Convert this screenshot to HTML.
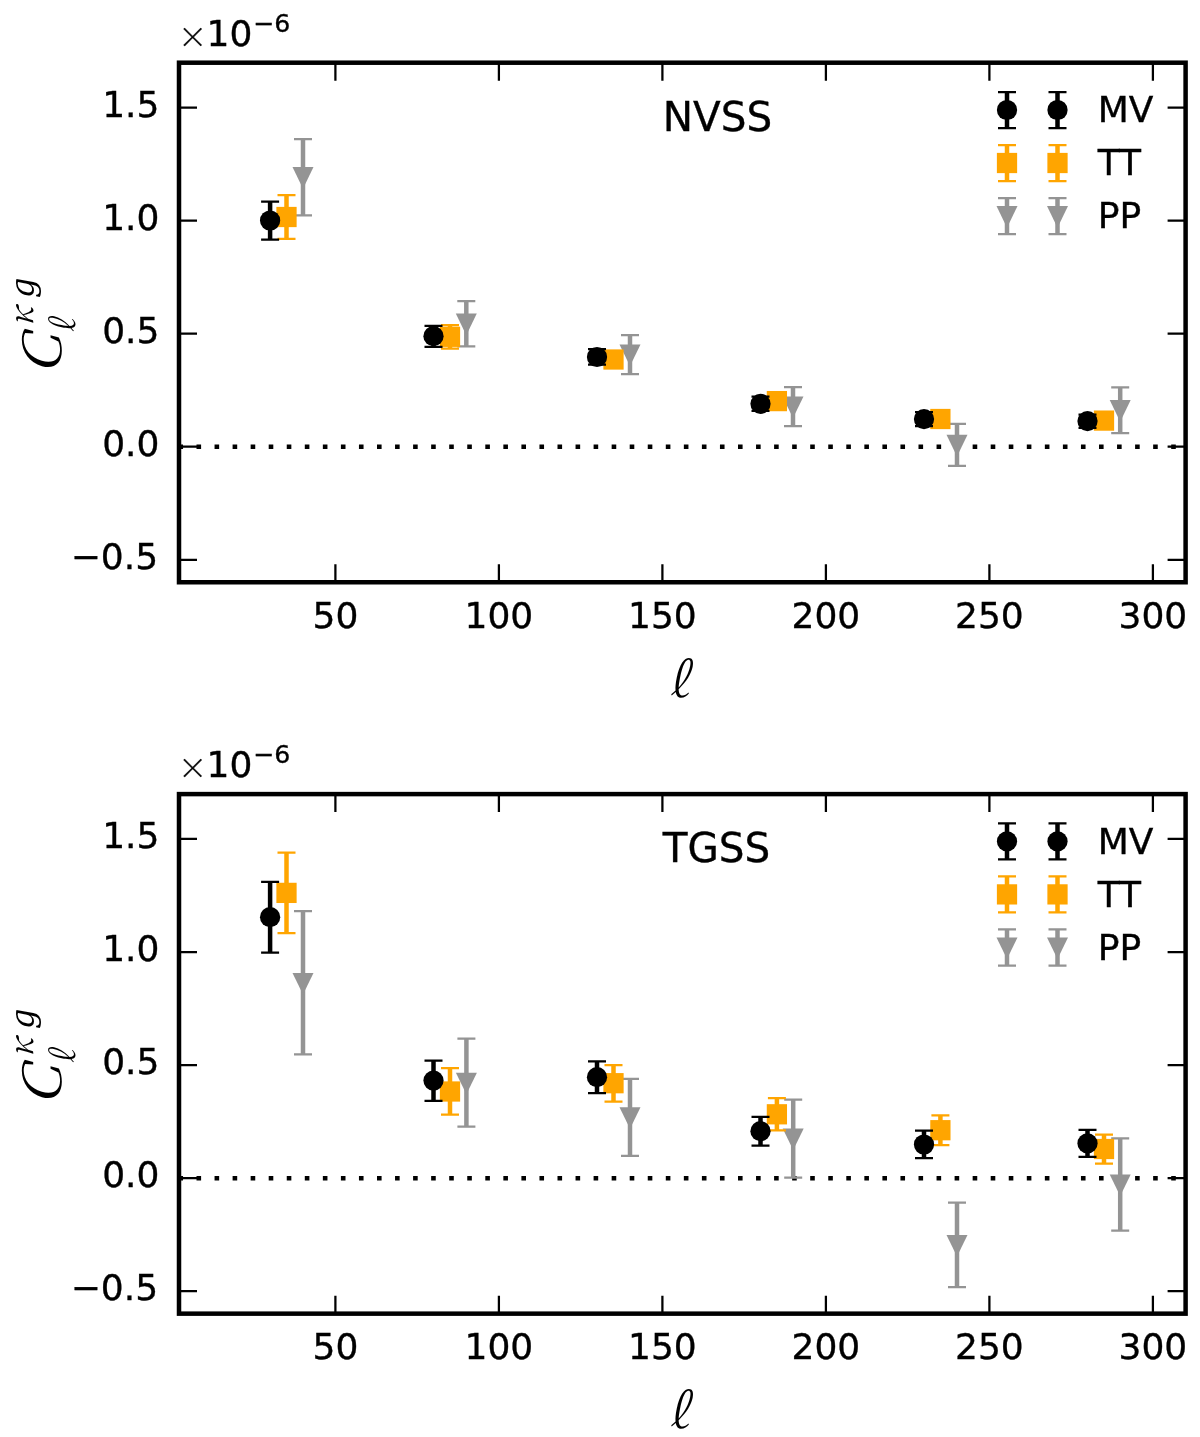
<!DOCTYPE html>
<html><head><meta charset="utf-8"><title>Cross-correlation band powers</title>
<style>
html,body{margin:0;padding:0;background:#fff}
svg{display:block}
text{font-family:"DejaVu Sans","Liberation Sans",sans-serif;fill:#000}
.tk,.ttl{stroke:#000;stroke-width:0.35px}
.tk{font-size:36px}
.sup{font-size:25.2px}
.ttl{font-size:40.5px}
.cm{font-family:"Noto Serif CJK SC","Liberation Serif",serif}
.cmi{font-family:"Noto Serif CJK SC","Liberation Serif",serif;font-style:italic}
.dvi{font-family:"DejaVu Serif","Liberation Serif",serif;font-style:italic}
</style></head>
<body>
<svg width="1200" height="1437" viewBox="0 0 1200 1437">
<rect width="1200" height="1437" fill="#fff"/>
<g id="panel-nvss">
<path d="M178.45 446.75H1185.6" stroke="#000" stroke-width="4.5" stroke-dasharray="4.6 13.45" fill="none"/>
<g>
<path d="M303 139V215.3" stroke="#949494" stroke-width="4.5" fill="none"/><path d="M294 139H312M294 215.3H312" stroke="#949494" stroke-width="2.25" fill="none"/><path d="M292.5 167.07H313.5L303 188.7Z" fill="#949494"/>
<path d="M466.3 301V346.3" stroke="#949494" stroke-width="4.5" fill="none"/><path d="M457.3 301H475.3M457.3 346.3H475.3" stroke="#949494" stroke-width="2.25" fill="none"/><path d="M455.8 313.57H476.8L466.3 335.2Z" fill="#949494"/>
<path d="M630 335V374" stroke="#949494" stroke-width="4.5" fill="none"/><path d="M621 335H639M621 374H639" stroke="#949494" stroke-width="2.25" fill="none"/><path d="M619.5 344.38H640.5L630 366Z" fill="#949494"/>
<path d="M793 387V426" stroke="#949494" stroke-width="4.5" fill="none"/><path d="M784 387H802M784 426H802" stroke="#949494" stroke-width="2.25" fill="none"/><path d="M782.5 396.38H803.5L793 418Z" fill="#949494"/>
<path d="M957 423.8V465.8" stroke="#949494" stroke-width="4.5" fill="none"/><path d="M948 423.8H966M948 465.8H966" stroke="#949494" stroke-width="2.25" fill="none"/><path d="M946.5 434.77H967.5L957 456.4Z" fill="#949494"/>
<path d="M1120.2 387.3V433" stroke="#949494" stroke-width="4.5" fill="none"/><path d="M1111.2 387.3H1129.2M1111.2 433H1129.2" stroke="#949494" stroke-width="2.25" fill="none"/><path d="M1109.7 400.07H1130.7L1120.2 421.7Z" fill="#949494"/>
</g>
<g>
<path d="M286.5 195.2V238.8" stroke="#ffa500" stroke-width="4.5" fill="none"/><path d="M277.5 195.2H295.5M277.5 238.8H295.5" stroke="#ffa500" stroke-width="2.25" fill="none"/><rect x="276.38" y="206.88" width="20.25" height="20.25" fill="#ffa500"/>
<path d="M450 325V348.7" stroke="#ffa500" stroke-width="4.5" fill="none"/><path d="M441 325H459M441 348.7H459" stroke="#ffa500" stroke-width="2.25" fill="none"/><rect x="439.88" y="326.68" width="20.25" height="20.25" fill="#ffa500"/>
<path d="M613.5 352.5V366.5" stroke="#ffa500" stroke-width="4.5" fill="none"/><path d="M604.5 352.5H622.5M604.5 366.5H622.5" stroke="#ffa500" stroke-width="2.25" fill="none"/><rect x="603.38" y="349.38" width="20.25" height="20.25" fill="#ffa500"/>
<path d="M776.9 394V408" stroke="#ffa500" stroke-width="4.5" fill="none"/><path d="M767.9 394H785.9M767.9 408H785.9" stroke="#ffa500" stroke-width="2.25" fill="none"/><rect x="766.77" y="390.98" width="20.25" height="20.25" fill="#ffa500"/>
<path d="M940.4 412.5V425.5" stroke="#ffa500" stroke-width="4.5" fill="none"/><path d="M931.4 412.5H949.4M931.4 425.5H949.4" stroke="#ffa500" stroke-width="2.25" fill="none"/><rect x="930.27" y="408.88" width="20.25" height="20.25" fill="#ffa500"/>
<path d="M1104 414V427" stroke="#ffa500" stroke-width="4.5" fill="none"/><path d="M1095 414H1113M1095 427H1113" stroke="#ffa500" stroke-width="2.25" fill="none"/><rect x="1093.88" y="410.48" width="20.25" height="20.25" fill="#ffa500"/>
</g>
<g>
<path d="M270.1 201.5V239.7" stroke="#000" stroke-width="4.5" fill="none"/><path d="M261.1 201.5H279.1M261.1 239.7H279.1" stroke="#000" stroke-width="2.25" fill="none"/><circle cx="270.1" cy="220.5" r="10.12" fill="#000"/>
<path d="M433.5 325.8V346.8" stroke="#000" stroke-width="4.5" fill="none"/><path d="M424.5 325.8H442.5M424.5 346.8H442.5" stroke="#000" stroke-width="2.25" fill="none"/><circle cx="433.5" cy="336.2" r="10.12" fill="#000"/>
<path d="M597 349V364.7" stroke="#000" stroke-width="4.5" fill="none"/><path d="M588 349H606M588 364.7H606" stroke="#000" stroke-width="2.25" fill="none"/><circle cx="597" cy="357" r="10.12" fill="#000"/>
<path d="M760.5 396.5V410.8" stroke="#000" stroke-width="4.5" fill="none"/><path d="M751.5 396.5H769.5M751.5 410.8H769.5" stroke="#000" stroke-width="2.25" fill="none"/><circle cx="760.5" cy="403.8" r="10.12" fill="#000"/>
<path d="M924 412V426" stroke="#000" stroke-width="4.5" fill="none"/><path d="M915 412H933M915 426H933" stroke="#000" stroke-width="2.25" fill="none"/><circle cx="924" cy="419.1" r="10.12" fill="#000"/>
<path d="M1087.5 414.5V427.8" stroke="#000" stroke-width="4.5" fill="none"/><path d="M1078.5 414.5H1096.5M1078.5 427.8H1096.5" stroke="#000" stroke-width="2.25" fill="none"/><circle cx="1087.5" cy="421.1" r="10.12" fill="#000"/>
</g>
<path d="M335.4 582.25V564.25M335.4 62.7V80.7M498.9 582.25V564.25M498.9 62.7V80.7M662.4 582.25V564.25M662.4 62.7V80.7M825.9 582.25V564.25M825.9 62.7V80.7M989.4 582.25V564.25M989.4 62.7V80.7M1152.9 582.25V564.25M1152.9 62.7V80.7M179 559.75H197M1185.6 559.75H1167.6M179 446.7H197M1185.6 446.7H1167.6M179 333.65H197M1185.6 333.65H1167.6M179 220.6H197M1185.6 220.6H1167.6M179 107.55H197M1185.6 107.55H1167.6" stroke="#000" stroke-width="2.25" fill="none"/>
<rect x="179" y="62.7" width="1006.6" height="519.55" fill="none" stroke="#000" stroke-width="4.5"/>
<g class="tk" text-anchor="middle">
<text transform="translate(335.4 627.85) scale(1 1)">50</text>
<text transform="translate(498.9 627.85) scale(1 1)">100</text>
<text transform="translate(662.4 627.85) scale(1 1)">150</text>
<text transform="translate(825.9 627.85) scale(1 1)">200</text>
<text transform="translate(989.4 627.85) scale(1 1)">250</text>
<text transform="translate(1152.9 627.85) scale(1 1)">300</text>
</g>
<g class="tk" text-anchor="end">
<text transform="translate(158.1 568.95) scale(1 1)">−0.5</text>
<text transform="translate(159.4 455.9) scale(1 1)">0.0</text>
<text transform="translate(159.4 342.85) scale(1 1)">0.5</text>
<text transform="translate(159.4 229.8) scale(1 1)">1.0</text>
<text transform="translate(159.4 116.75) scale(1 1)">1.5</text>
</g>
<text class="cm" font-size="29.3" stroke="#000" stroke-width="0.45" x="178.1" y="48.1">×</text>
<text class="tk" x="206.6" y="45.85">10<tspan class="sup" x="253.1" y="32.4">−6</tspan></text>
<text class="cmi" font-size="47.7" transform="translate(669.2 697.1) scale(0.823 1)">ℓ</text>
<g transform="translate(0 0)">
<text class="cmi" font-size="52.6" transform="translate(61.2 374.6) rotate(-90) scale(1.085 1)">C</text>
<text class="cmi" font-size="33" transform="translate(74.5 332.4) rotate(-90) scale(0.825 1)">ℓ</text>
<text class="cmi" font-size="32.1" transform="translate(33 326.2) rotate(-90) scale(1.035 1)">κ</text>
<text class="dvi" font-size="33" transform="translate(33.65 298.1) rotate(-90) scale(0.97 1)">g</text>
</g>
<text class="ttl" x="662.8" y="130.9">NVSS</text>
<path d="M1007 92V128" stroke="#000" stroke-width="4.5" fill="none"/><path d="M998 92H1016M998 128H1016" stroke="#000" stroke-width="2.25" fill="none"/><circle cx="1007" cy="110" r="10.12" fill="#000"/>
<path d="M1057.5 92V128" stroke="#000" stroke-width="4.5" fill="none"/><path d="M1048.5 92H1066.5M1048.5 128H1066.5" stroke="#000" stroke-width="2.25" fill="none"/><circle cx="1057.5" cy="110" r="10.12" fill="#000"/>
<text class="tk" x="1097.7" y="122.3">MV</text>
<path d="M1007 145V181" stroke="#ffa500" stroke-width="4.5" fill="none"/><path d="M998 145H1016M998 181H1016" stroke="#ffa500" stroke-width="2.25" fill="none"/><rect x="996.88" y="152.88" width="20.25" height="20.25" fill="#ffa500"/>
<path d="M1057.5 145V181" stroke="#ffa500" stroke-width="4.5" fill="none"/><path d="M1048.5 145H1066.5M1048.5 181H1066.5" stroke="#ffa500" stroke-width="2.25" fill="none"/><rect x="1047.38" y="152.88" width="20.25" height="20.25" fill="#ffa500"/>
<text class="tk" x="1097.7" y="175.3">TT</text>
<path d="M1007 198V234.2" stroke="#949494" stroke-width="4.5" fill="none"/><path d="M998 198H1016M998 234.2H1016" stroke="#949494" stroke-width="2.25" fill="none"/><path d="M996.5 206.07H1017.5L1007 227.7Z" fill="#949494"/>
<path d="M1057.5 198V234.2" stroke="#949494" stroke-width="4.5" fill="none"/><path d="M1048.5 198H1066.5M1048.5 234.2H1066.5" stroke="#949494" stroke-width="2.25" fill="none"/><path d="M1047 206.07H1068L1057.5 227.7Z" fill="#949494"/>
<text class="tk" x="1097.7" y="228.3">PP</text>
</g>
<g id="panel-tgss">
<path d="M178.45 1178.15H1185.6" stroke="#000" stroke-width="4.5" stroke-dasharray="4.6 13.45" fill="none"/>
<g>
<path d="M303 911.2V1054.4" stroke="#949494" stroke-width="4.5" fill="none"/><path d="M294 911.2H312M294 1054.4H312" stroke="#949494" stroke-width="2.25" fill="none"/><path d="M292.5 972.88H313.5L303 994.5Z" fill="#949494"/>
<path d="M466.4 1038.6V1126.6" stroke="#949494" stroke-width="4.5" fill="none"/><path d="M457.4 1038.6H475.4M457.4 1126.6H475.4" stroke="#949494" stroke-width="2.25" fill="none"/><path d="M455.9 1072.67H476.9L466.4 1094.3Z" fill="#949494"/>
<path d="M630 1078.8V1155.8" stroke="#949494" stroke-width="4.5" fill="none"/><path d="M621 1078.8H639M621 1155.8H639" stroke="#949494" stroke-width="2.25" fill="none"/><path d="M619.5 1107.17H640.5L630 1128.8Z" fill="#949494"/>
<path d="M793.2 1099.5V1177.5" stroke="#949494" stroke-width="4.5" fill="none"/><path d="M784.2 1099.5H802.2M784.2 1177.5H802.2" stroke="#949494" stroke-width="2.25" fill="none"/><path d="M782.7 1128.38H803.7L793.2 1150Z" fill="#949494"/>
<path d="M957 1202.5V1287" stroke="#949494" stroke-width="4.5" fill="none"/><path d="M948 1202.5H966M948 1287H966" stroke="#949494" stroke-width="2.25" fill="none"/><path d="M946.5 1234.88H967.5L957 1256.5Z" fill="#949494"/>
<path d="M1120.2 1138.3V1230.5" stroke="#949494" stroke-width="4.5" fill="none"/><path d="M1111.2 1138.3H1129.2M1111.2 1230.5H1129.2" stroke="#949494" stroke-width="2.25" fill="none"/><path d="M1109.7 1174.38H1130.7L1120.2 1196Z" fill="#949494"/>
</g>
<g>
<path d="M286.5 852.5V933.1" stroke="#ffa500" stroke-width="4.5" fill="none"/><path d="M277.5 852.5H295.5M277.5 933.1H295.5" stroke="#ffa500" stroke-width="2.25" fill="none"/><rect x="276.38" y="882.77" width="20.25" height="20.25" fill="#ffa500"/>
<path d="M450 1068.2V1114.6" stroke="#ffa500" stroke-width="4.5" fill="none"/><path d="M441 1068.2H459M441 1114.6H459" stroke="#ffa500" stroke-width="2.25" fill="none"/><rect x="439.88" y="1081.38" width="20.25" height="20.25" fill="#ffa500"/>
<path d="M613.5 1065V1101.5" stroke="#ffa500" stroke-width="4.5" fill="none"/><path d="M604.5 1065H622.5M604.5 1101.5H622.5" stroke="#ffa500" stroke-width="2.25" fill="none"/><rect x="603.38" y="1073.08" width="20.25" height="20.25" fill="#ffa500"/>
<path d="M776.9 1098V1130.3" stroke="#ffa500" stroke-width="4.5" fill="none"/><path d="M767.9 1098H785.9M767.9 1130.3H785.9" stroke="#ffa500" stroke-width="2.25" fill="none"/><rect x="766.77" y="1104.17" width="20.25" height="20.25" fill="#ffa500"/>
<path d="M940.4 1115.4V1145.2" stroke="#ffa500" stroke-width="4.5" fill="none"/><path d="M931.4 1115.4H949.4M931.4 1145.2H949.4" stroke="#ffa500" stroke-width="2.25" fill="none"/><rect x="930.27" y="1120.08" width="20.25" height="20.25" fill="#ffa500"/>
<path d="M1104 1134.6V1163.5" stroke="#ffa500" stroke-width="4.5" fill="none"/><path d="M1095 1134.6H1113M1095 1163.5H1113" stroke="#ffa500" stroke-width="2.25" fill="none"/><rect x="1093.88" y="1138.88" width="20.25" height="20.25" fill="#ffa500"/>
</g>
<g>
<path d="M270.1 881.9V952.5" stroke="#000" stroke-width="4.5" fill="none"/><path d="M261.1 881.9H279.1M261.1 952.5H279.1" stroke="#000" stroke-width="2.25" fill="none"/><circle cx="270.1" cy="917.2" r="10.12" fill="#000"/>
<path d="M433.5 1060.5V1100.8" stroke="#000" stroke-width="4.5" fill="none"/><path d="M424.5 1060.5H442.5M424.5 1100.8H442.5" stroke="#000" stroke-width="2.25" fill="none"/><circle cx="433.5" cy="1080.6" r="10.12" fill="#000"/>
<path d="M597 1061.3V1093.2" stroke="#000" stroke-width="4.5" fill="none"/><path d="M588 1061.3H606M588 1093.2H606" stroke="#000" stroke-width="2.25" fill="none"/><circle cx="597" cy="1077.2" r="10.12" fill="#000"/>
<path d="M760.5 1116.8V1145.5" stroke="#000" stroke-width="4.5" fill="none"/><path d="M751.5 1116.8H769.5M751.5 1145.5H769.5" stroke="#000" stroke-width="2.25" fill="none"/><circle cx="760.5" cy="1131.2" r="10.12" fill="#000"/>
<path d="M924 1130.5V1158.1" stroke="#000" stroke-width="4.5" fill="none"/><path d="M915 1130.5H933M915 1158.1H933" stroke="#000" stroke-width="2.25" fill="none"/><circle cx="924" cy="1144.5" r="10.12" fill="#000"/>
<path d="M1087.5 1129.8V1156.9" stroke="#000" stroke-width="4.5" fill="none"/><path d="M1078.5 1129.8H1096.5M1078.5 1156.9H1096.5" stroke="#000" stroke-width="2.25" fill="none"/><circle cx="1087.5" cy="1143.4" r="10.12" fill="#000"/>
</g>
<path d="M335.4 1313.65V1295.65M335.4 794.1V812.1M498.9 1313.65V1295.65M498.9 794.1V812.1M662.4 1313.65V1295.65M662.4 794.1V812.1M825.9 1313.65V1295.65M825.9 794.1V812.1M989.4 1313.65V1295.65M989.4 794.1V812.1M1152.9 1313.65V1295.65M1152.9 794.1V812.1M179 1291.15H197M1185.6 1291.15H1167.6M179 1178.1H197M1185.6 1178.1H1167.6M179 1065.05H197M1185.6 1065.05H1167.6M179 952H197M1185.6 952H1167.6M179 838.95H197M1185.6 838.95H1167.6" stroke="#000" stroke-width="2.25" fill="none"/>
<rect x="179" y="794.1" width="1006.6" height="519.55" fill="none" stroke="#000" stroke-width="4.5"/>
<g class="tk" text-anchor="middle">
<text transform="translate(335.4 1359.25) scale(1 1)">50</text>
<text transform="translate(498.9 1359.25) scale(1 1)">100</text>
<text transform="translate(662.4 1359.25) scale(1 1)">150</text>
<text transform="translate(825.9 1359.25) scale(1 1)">200</text>
<text transform="translate(989.4 1359.25) scale(1 1)">250</text>
<text transform="translate(1152.9 1359.25) scale(1 1)">300</text>
</g>
<g class="tk" text-anchor="end">
<text transform="translate(158.1 1300.35) scale(1 1)">−0.5</text>
<text transform="translate(159.4 1187.3) scale(1 1)">0.0</text>
<text transform="translate(159.4 1074.25) scale(1 1)">0.5</text>
<text transform="translate(159.4 961.2) scale(1 1)">1.0</text>
<text transform="translate(159.4 848.15) scale(1 1)">1.5</text>
</g>
<text class="cm" font-size="29.3" stroke="#000" stroke-width="0.45" x="178.1" y="779.1">×</text>
<text class="tk" x="206.6" y="776.85">10<tspan class="sup" x="253.1" y="763.4">−6</tspan></text>
<text class="cmi" font-size="47.7" transform="translate(669.2 1427.6) scale(0.823 1)">ℓ</text>
<g transform="translate(0 731)">
<text class="cmi" font-size="52.6" transform="translate(61.2 374.6) rotate(-90) scale(1.085 1)">C</text>
<text class="cmi" font-size="33" transform="translate(74.5 332.4) rotate(-90) scale(0.825 1)">ℓ</text>
<text class="cmi" font-size="32.1" transform="translate(33 326.2) rotate(-90) scale(1.035 1)">κ</text>
<text class="dvi" font-size="33" transform="translate(33.65 298.1) rotate(-90) scale(0.97 1)">g</text>
</g>
<text class="ttl" x="662.7" y="861.8">TGSS</text>
<path d="M1007 823.4V859.4" stroke="#000" stroke-width="4.5" fill="none"/><path d="M998 823.4H1016M998 859.4H1016" stroke="#000" stroke-width="2.25" fill="none"/><circle cx="1007" cy="841.4" r="10.12" fill="#000"/>
<path d="M1057.5 823.4V859.4" stroke="#000" stroke-width="4.5" fill="none"/><path d="M1048.5 823.4H1066.5M1048.5 859.4H1066.5" stroke="#000" stroke-width="2.25" fill="none"/><circle cx="1057.5" cy="841.4" r="10.12" fill="#000"/>
<text class="tk" x="1097.7" y="853.7">MV</text>
<path d="M1007 876.4V912.4" stroke="#ffa500" stroke-width="4.5" fill="none"/><path d="M998 876.4H1016M998 912.4H1016" stroke="#ffa500" stroke-width="2.25" fill="none"/><rect x="996.88" y="884.27" width="20.25" height="20.25" fill="#ffa500"/>
<path d="M1057.5 876.4V912.4" stroke="#ffa500" stroke-width="4.5" fill="none"/><path d="M1048.5 876.4H1066.5M1048.5 912.4H1066.5" stroke="#ffa500" stroke-width="2.25" fill="none"/><rect x="1047.38" y="884.27" width="20.25" height="20.25" fill="#ffa500"/>
<text class="tk" x="1097.7" y="906.7">TT</text>
<path d="M1007 929.4V965.6" stroke="#949494" stroke-width="4.5" fill="none"/><path d="M998 929.4H1016M998 965.6H1016" stroke="#949494" stroke-width="2.25" fill="none"/><path d="M996.5 937.47H1017.5L1007 959.1Z" fill="#949494"/>
<path d="M1057.5 929.4V965.6" stroke="#949494" stroke-width="4.5" fill="none"/><path d="M1048.5 929.4H1066.5M1048.5 965.6H1066.5" stroke="#949494" stroke-width="2.25" fill="none"/><path d="M1047 937.47H1068L1057.5 959.1Z" fill="#949494"/>
<text class="tk" x="1097.7" y="959.7">PP</text>
</g>
</svg>
</body></html>
